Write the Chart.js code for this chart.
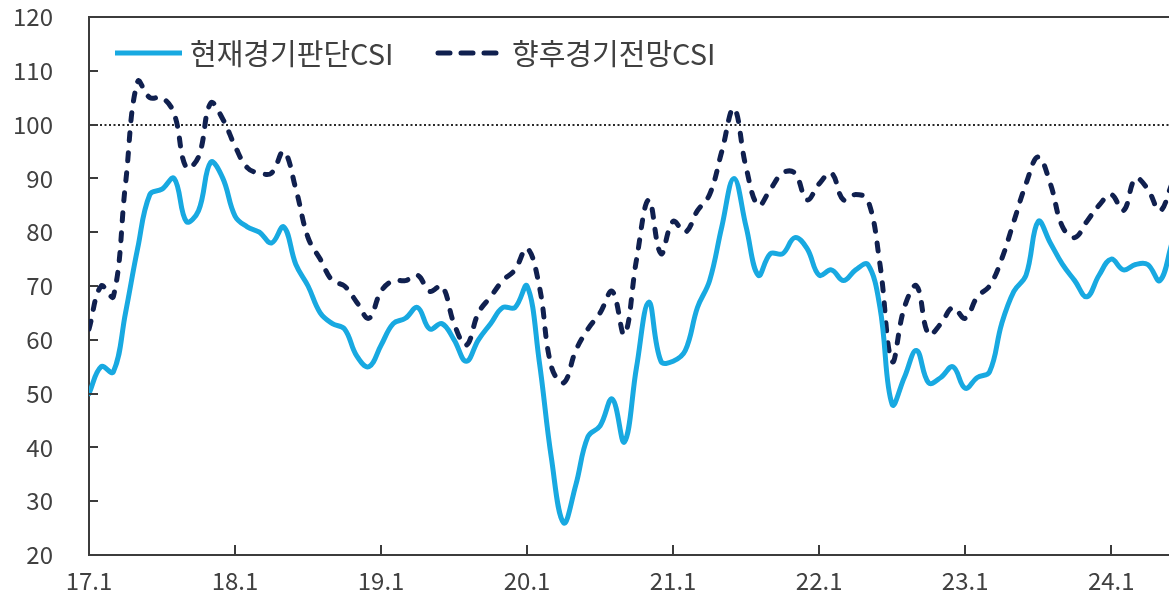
<!DOCTYPE html>
<html><head><meta charset="utf-8">
<script src="https://cdn.jsdelivr.net/npm/chart.js@4.4.1/dist/chart.umd.min.js"></script>
<style>html,body{margin:0;padding:0;background:#fff;}canvas{display:block;}</style>
</head><body>
<canvas id="c" width="1169" height="600"></canvas>
<script>
// ---- data (monthly, 2017.1 onward) ----
const LABEL_CURRENT = '현재경기판단CSI';
const LABEL_OUTLOOK = '향후경기전망CSI';
const X_TICK_LABELS = ['17.1','18.1','19.1','20.1','21.1','22.1','23.1','24.1'];
const REFERENCE_VALUE = 100;
const Y_MIN = 20, Y_MAX = 120, Y_STEP = 10;

const currentCSI = [
  50,55,54,65,77,87,88,90,82,84,93,90,
  83,81,80,78,81,74,70,65,63,62,57,55,
  59,63,64,66,62,63,60,56,60,63,66,66,
  70,56,38,26,33,42,44,49,41,55,67,56,
  56,58,66,71,81,90,81,72,76,76,79,77,
  72,73,71,73,74,66,48,53,58,52,53,55,
  51,53,54,63,69,72,82,78,74,71,68,72,
  75,73,74,74,71,78
];
const outlookCSI = [
  62,70,68,89,108,105,105,102,92,94,104,101,
  96,92,91,91,95,88,79,75,71,70,67,64,
  69,71,71,72,69,70,63,59,65,68,71,73,
  77,70,55,52,58,62,65,69,61,75,86,76,
  82,80,84,87,95,103,92,85,88,91,91,86,
  89,91,86,87,86,74,56,66,70,61,63,66,
  64,68,70,75,82,89,94,89,81,79,82,85,
  87,84,90,88,84,89
];
const MONTHS_PER_TICK = 12;
const X_VISIBLE_MAX = 88.75;

const toPoints = arr => arr.map((v, i) => ({x: i, y: v}));

const FONT = '"Noto Sans CJK KR", "Noto Sans", sans-serif';
const AXIS_COLOR = '#3c3c3c';
const TEXT_COLOR = '#404040';
const BLUE = '#18a9e1';
const NAVY = '#10204f';

const decor = {
  id: 'decor',
  beforeDatasetsDraw(chart) {
    const {ctx, chartArea: a, scales: {y}} = chart;
    ctx.save();
    const yr = Math.round(y.getPixelForValue(REFERENCE_VALUE));
    ctx.strokeStyle = '#2a2a2a';
    ctx.lineWidth = 2;
    ctx.setLineDash([2, 2.5]);
    ctx.beginPath(); ctx.moveTo(a.left + 2, yr); ctx.lineTo(a.right, yr); ctx.stroke();
    ctx.restore();
  },
  afterDraw(chart) {
    const {ctx, chartArea: a, scales: {x, y}} = chart;
    ctx.save();
    // top frame line
    ctx.strokeStyle = AXIS_COLOR; ctx.lineWidth = 2; ctx.setLineDash([]);
    ctx.beginPath(); ctx.moveTo(a.left - 1, a.top); ctx.lineTo(a.right, a.top); ctx.stroke();
    // inward tick marks
    ctx.lineWidth = 2;
    for (let v = Y_MIN + Y_STEP; v < Y_MAX; v += Y_STEP) {
      const py = Math.round(y.getPixelForValue(v));
      ctx.beginPath(); ctx.moveTo(a.left, py); ctx.lineTo(a.left + 9, py); ctx.stroke();
    }
    X_TICK_LABELS.forEach((_, k) => {
      if (k === 0) return;
      const px = Math.round(x.getPixelForValue(k * MONTHS_PER_TICK));
      ctx.beginPath(); ctx.moveTo(px, a.bottom); ctx.lineTo(px, a.bottom - 10); ctx.stroke();
    });
    // legend
    const ly = a.top + 36;
    ctx.font = '29px ' + FONT;
    ctx.textBaseline = 'middle';
    ctx.fillStyle = TEXT_COLOR;
    const ds = chart.data.datasets;
    // item 1
    ctx.strokeStyle = ds[0].borderColor; ctx.lineWidth = 5; ctx.lineCap = 'butt';
    ctx.beginPath(); ctx.moveTo(a.left + 26, ly); ctx.lineTo(a.left + 93, ly); ctx.stroke();
    ctx.fillText(ds[0].label, a.left + 101, ly + 1);
    // item 2
    ctx.strokeStyle = ds[1].borderColor; ctx.lineWidth = 5; ctx.lineCap = 'round';
    ctx.setLineDash([12, 11]);
    ctx.beginPath(); ctx.moveTo(a.left + 349, ly); ctx.lineTo(a.left + 407, ly); ctx.stroke();
    ctx.setLineDash([]);
    ctx.fillText(ds[1].label, a.left + 423, ly + 1);
    ctx.restore();
  }
};

new Chart(document.getElementById('c'), {
  type: 'line',
  data: {
    datasets: [
      {label: LABEL_CURRENT, data: toPoints(currentCSI), borderColor: BLUE, borderWidth: 5,
       pointRadius: 0, tension: 0.4, borderJoinStyle: 'round', borderCapStyle: 'round', clip: 0},
      {label: LABEL_OUTLOOK, data: toPoints(outlookCSI), borderColor: NAVY, borderWidth: 5,
       borderDash: [8, 12], borderCapStyle: 'round', borderJoinStyle: 'round',
       pointRadius: 0, tension: 0.4, clip: 0}
    ]
  },
  options: {
    responsive: false,
    animation: false,
    devicePixelRatio: 1,
    layout: {padding: {top: 17, right: 0, left: 0, bottom: 0}},
    plugins: {legend: {display: false}, tooltip: {enabled: false}},
    scales: {
      x: {
        type: 'linear', min: 0, max: X_VISIBLE_MAX,
        afterBuildTicks: s => { s.ticks = X_TICK_LABELS.map((_, k) => ({value: k * MONTHS_PER_TICK})); },
        afterFit: s => { s.height = 45; s.paddingLeft = 0; s.paddingRight = 0; s.paddingTop = 0; s.paddingBottom = 0; },
        grid: {display: true, drawOnChartArea: false, drawTicks: false},
        border: {display: true, color: AXIS_COLOR, width: 2},
        ticks: {
          autoSkip: false, maxRotation: 0, padding: 11,
          color: TEXT_COLOR, font: {family: FONT, size: 24},
          callback: v => X_TICK_LABELS[Math.round(v / MONTHS_PER_TICK)]
        }
      },
      y: {
        min: Y_MIN, max: Y_MAX,
        afterFit: s => { s.width = 89; s.paddingTop = 0; s.paddingBottom = 0; s.paddingLeft = 0; s.paddingRight = 0; },
        grid: {display: true, drawOnChartArea: false, drawTicks: false},
        border: {display: true, color: AXIS_COLOR, width: 2},
        ticks: {stepSize: Y_STEP, padding: 36, color: TEXT_COLOR, font: {family: FONT, size: 24}}
      }
    }
  },
  plugins: [decor]
});
</script>
</body></html>
